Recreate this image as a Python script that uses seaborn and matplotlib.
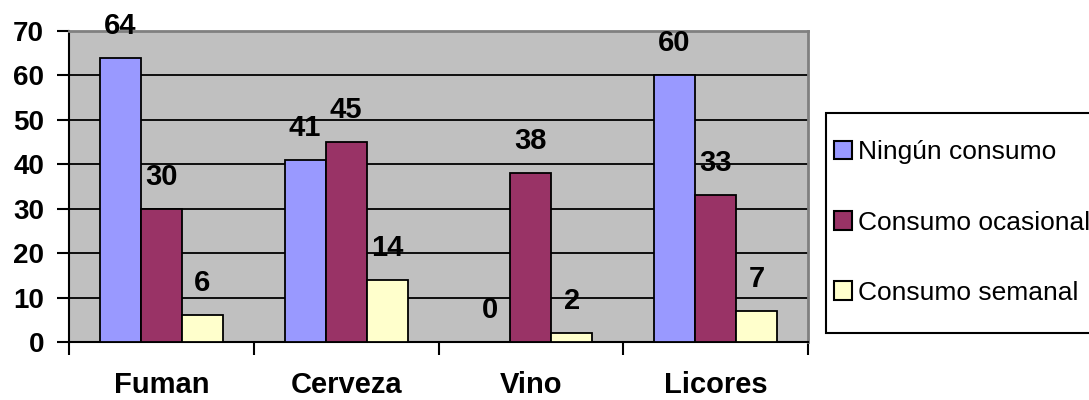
import matplotlib
matplotlib.use("Agg")
import matplotlib.pyplot as plt
from matplotlib.patches import Patch, Rectangle
import pandas as pd
import seaborn as sns

categorias = ["Fuman", "Cerveza", "Vino", "Licores"]
series = ["Ningún consumo", "Consumo ocasional", "Consumo semanal"]
ningun = [64, 41, 0, 60]
ocasional = [30, 45, 38, 33]
semanal = [6, 14, 2, 7]
colores = ["#9999FF", "#993366", "#FFFFCC"]

df = pd.DataFrame({
    "categoria": categorias * 3,
    "serie": [series[0]] * 4 + [series[1]] * 4 + [series[2]] * 4,
    "valor": ningun + ocasional + semanal,
})

sns.set_style("white")
plt.rcParams["font.family"] = ["Liberation Sans", "DejaVu Sans"]
plt.rcParams["text.color"] = "black"
plt.rcParams["xtick.color"] = "black"
plt.rcParams["ytick.color"] = "black"

fig = plt.figure(figsize=(10.89, 4.0), dpi=100)
ax = fig.add_axes([69 / 1089, 58 / 400, 739 / 1089, 311 / 400])
ax.set_facecolor("#C0C0C0")

sns.barplot(data=df, x="categoria", y="valor", hue="serie", palette=colores,
            width=0.667, gap=0, edgecolor="black", linewidth=1.3,
            saturation=1, legend=False, ax=ax, zorder=3)

for cont in ax.containers:
    ax.bar_label(cont, fmt="%d", padding=13, fontsize=21, fontweight="bold", color="black")

ax.set_ylim(0, 70)
ax.set_xlim(-0.5, 3.5)
ax.set_yticks(range(0, 71, 10))
ax.set_axisbelow(True)
ax.yaxis.grid(True, color="black", linewidth=1.3)
ax.xaxis.grid(False)

ax.set_xticks(range(4))
ax.set_xticklabels(categorias, fontsize=21, fontweight="bold")
ax.set_xticks([-0.5, 0.5, 1.5, 2.5, 3.5], minor=True)
ax.tick_params(axis="x", which="both", bottom=True)
ax.tick_params(axis="x", which="major", length=0, pad=21, labelcolor="black")
ax.tick_params(axis="x", which="minor", length=9, width=1.5, color="black", direction="out")
ax.tick_params(axis="y", left=True, length=9, width=1.5, color="black", direction="out", pad=9,
               labelsize=20, labelcolor="black")
for lab in ax.get_yticklabels():
    lab.set_fontweight("bold")
ax.set_xlabel("")
ax.set_ylabel("")

for s in ["left", "bottom"]:
    ax.spines[s].set_color("black")
    ax.spines[s].set_linewidth(1.5)
for s in ["top", "right"]:
    ax.spines[s].set_color("#808080")
    ax.spines[s].set_linewidth(2)

# legend box runs past the right edge, as in the original
fig.patches.append(Rectangle((826 / 1089, 1 - 333 / 400), 300 / 1089, 220 / 400,
                             transform=fig.transFigure, facecolor="white",
                             edgecolor="black", linewidth=1.5, zorder=1))
handles = [Patch(facecolor=c, edgecolor="black", linewidth=1.5) for c in colores]
leg = fig.legend(handles, series, loc="center left", bbox_to_anchor=(834 / 1089, 1 - 222.5 / 400),
                 fontsize=19, frameon=False, handlelength=0.7, handleheight=0.7,
                 handletextpad=0.2, labelspacing=1.75, borderpad=0, borderaxespad=0)
leg.set_zorder(2)
for t in leg.get_texts():
    t.set_color("black")

fig.savefig("out.png", dpi=100)
